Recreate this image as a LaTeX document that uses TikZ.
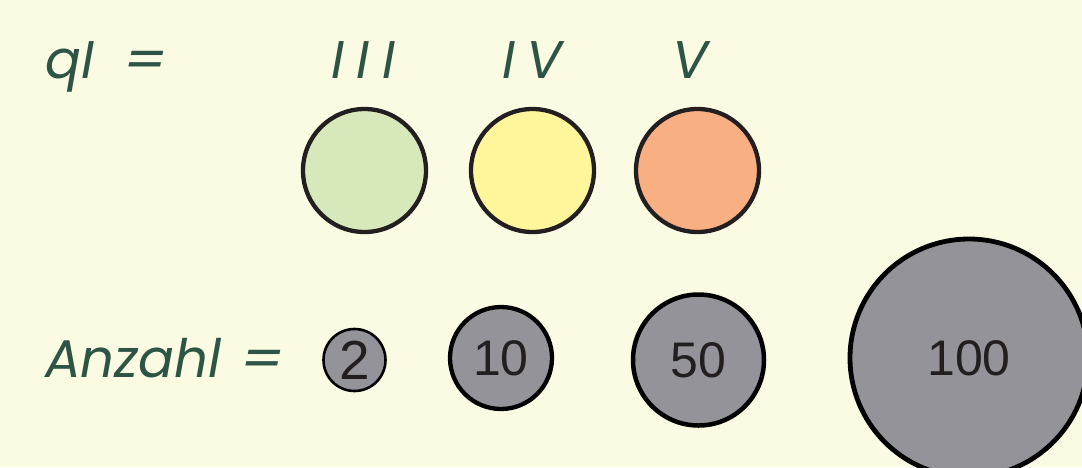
\documentclass[tikz,border=0pt]{standalone}
\usepackage{fontspec}
\newfontfamily\labfont{Poppins}
\newfontfamily\numfont{Liberation Sans}
\definecolor{bg}{HTML}{FBFBE4}
\definecolor{labc}{HTML}{2D5445}
\definecolor{numc}{HTML}{231F20}
\definecolor{cgreen}{HTML}{D7E8BA}
\definecolor{cyellow}{HTML}{FFF59B}
\definecolor{corange}{HTML}{F8AF82}
\definecolor{cgray}{HTML}{939399}
\begin{document}
\begin{tikzpicture}[x=1pt,y=-1pt,
  lab/.style={text=labc,font=\labfont\itshape\fontsize{53}{53}\selectfont,inner sep=0pt,anchor=base west},
  colc/.style={circle,draw=numc,line width=4.3pt,minimum size=123pt,inner sep=0pt},
  numc/.style={circle,draw=black,fill=cgray,text=numc,inner sep=0pt,font=\numfont\fontsize{50}{50}\selectfont}]
\fill[bg] (0,0) rectangle (1082,467);
\useasboundingbox (0,0) rectangle (1082,467);
\node[lab] (ql) at (45,78) {qI\kern0.55em\scalebox{1.15}[1]{=}};
\node[lab] (l3) at (331,78) {I\kern0.24em I\kern0.24em I};
\node[lab] (l4) at (502,78) {I\kern0.22em V};
\node[lab] (l5) at (672,78) {V};
\node[colc,fill=cgreen] (g) at (364.5,170.5) {};
\node[colc,fill=cyellow] (y) at (532.5,170.5) {};
\node[colc,fill=corange] (o) at (697.5,170.5) {};
\node[lab] (an) at (45,377) {Anzahl\kern0.35em\scalebox{1.15}[1]{=}};
\node[numc,line width=2.6pt,minimum size=62pt,font=\numfont\fontsize{55}{55}\selectfont] (n2) at (354.5,360) {2};
\node[numc,line width=4.3pt,minimum size=102pt] (n10) at (501,358) {10};
\node[numc,line width=4.5pt,minimum size=131pt] (n50) at (698.5,360) {50};
\node[numc,line width=4.8pt,minimum size=238pt] (n100) at (969,358) {100};
\end{tikzpicture}
\end{document}
